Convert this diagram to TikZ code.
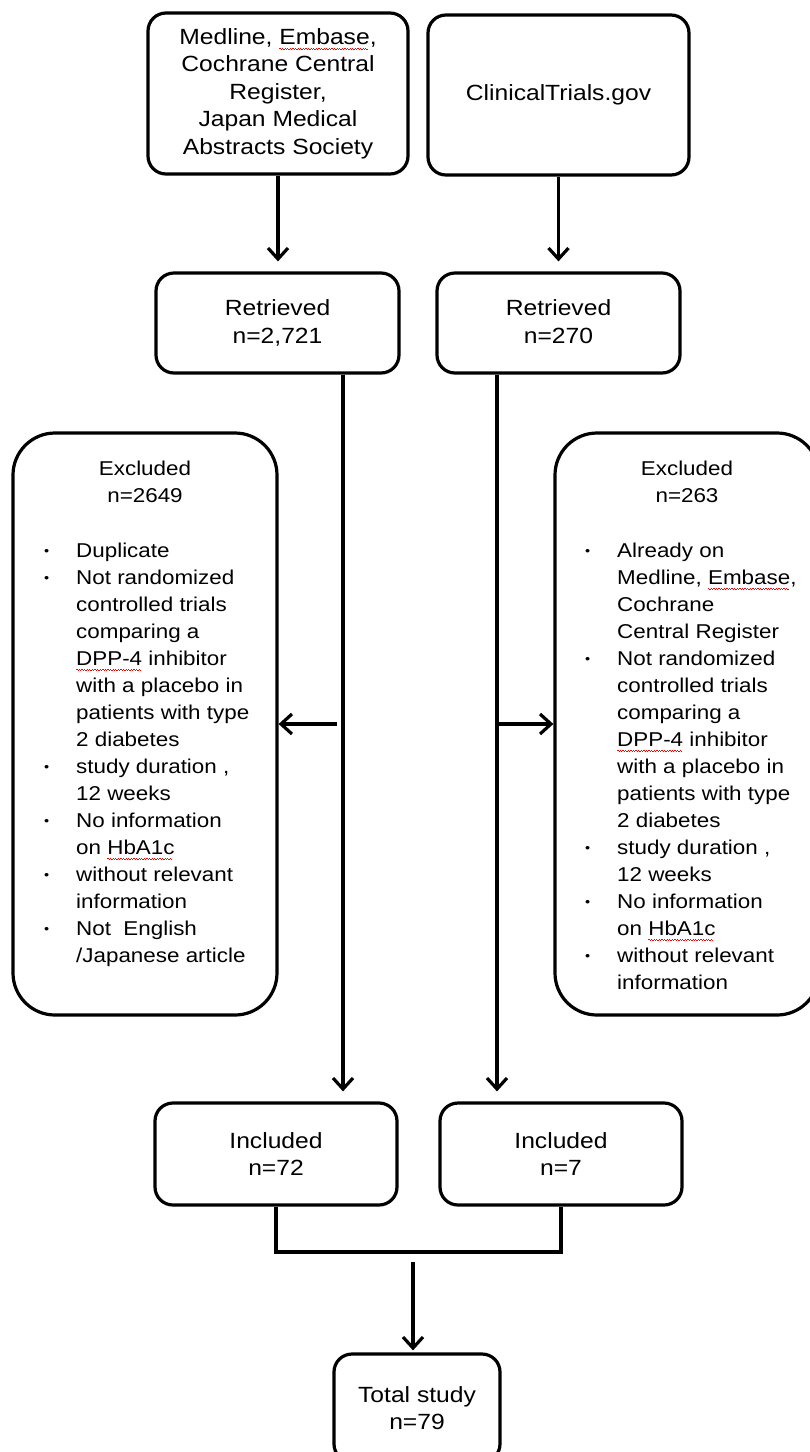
\documentclass[tikz,border=0pt]{standalone}
\usepackage{fontspec}
\setmainfont{Liberation Sans}[FakeStretch=1.12]
\usetikzlibrary{arrows.meta}
\newcommand\wavebit{\textcolor{red}{\rule[0pt]{1.3pt}{0.9pt}\rule[-1.1pt]{1.3pt}{0.9pt}}}
\newcommand\spellw[1]{\setbox0\hbox{#1}\rlap{\raisebox{-4.5pt}{\hbox to \wd0{\leaders\hbox{\wavebit}\hfill}}}#1}
\newcommand\bul{\raisebox{2pt}{\fontsize{13}{13}\selectfont\textbullet}}
\tikzset{
  box/.style={draw, line width=3.2pt, rounded corners=18pt, align=center,
    font=\fontsize{22}{27.5}\selectfont, inner sep=0pt},
  exbox/.style={draw, line width=3.2pt, rounded corners=42pt, inner sep=0pt},
  exfont/.style={font=\fontsize{20}{27}\selectfont, inner sep=0pt},
  conn/.style={line width=3.2pt},
  arr/.style={line width=3.2pt, -{Straight Barb[length=11pt,width=20pt,line width=3.2pt]}},
}
\begin{document}
\begin{tikzpicture}[x=1pt,y=-1pt]
\useasboundingbox (0,0) rectangle (810,1452);
\clip (0,0) rectangle (810,1452);

% sources
\node[box, minimum width=260pt, minimum height=161pt] (src1) at (278,93.5)
  {Medline, \spellw{Embase},\\Cochrane Central\\Register,\\Japan Medical\\Abstracts Society};
\node[box, minimum width=261pt, minimum height=160pt] (src2) at (558.5,95)
  {ClinicalTrials.gov};

% retrieved
\node[box, minimum width=243pt, minimum height=100pt] (retL) at (277.5,323) {Retrieved\\n=2,721};
\node[box, minimum width=243pt, minimum height=100pt] (retR) at (558.5,323) {Retrieved\\n=270\vphantom{,}};

% excluded boxes
\node[exbox, minimum width=264pt, minimum height=582pt] (exL) at (145,724) {};
\node[exbox, minimum width=264pt, minimum height=582pt] (exR) at (687,724) {};

\node[exfont, anchor=base] (exLh) at (145,475)
  {\begin{tabular}[t]{@{}c@{}}Excluded\\n=2649\end{tabular}};
\node[exfont, anchor=base west] (exLt) at (44,557)
  {\begin{tabular}[t]{@{}l@{}l@{}}
  \makebox[32pt][l]{\bul} & Duplicate\\
  \makebox[32pt][l]{\bul} & Not randomized\\
  & controlled trials\\
  & comparing a\\
  & \spellw{DPP-4} inhibitor\\
  & with a placebo in\\
  & patients with type\\
  & 2 diabetes\\
  \makebox[32pt][l]{\bul} & study duration ,\\
  & 12 weeks\\
  \makebox[32pt][l]{\bul} & No information\\
  & on \spellw{HbA1c}\\
  \makebox[32pt][l]{\bul} & without relevant\\
  & information\\
  \makebox[32pt][l]{\bul} & Not\ \ English\\
  & /Japanese article
  \end{tabular}};

\node[exfont, anchor=base] (exRh) at (687,475)
  {\begin{tabular}[t]{@{}c@{}}Excluded\\n=263\end{tabular}};
\node[exfont, anchor=base west] (exRt) at (585,557)
  {\begin{tabular}[t]{@{}l@{}l@{}}
  \makebox[32pt][l]{\bul} & Already on\\
  & Medline, \spellw{Embase},\\
  & Cochrane\\
  & Central Register\\
  \makebox[32pt][l]{\bul} & Not randomized\\
  & controlled trials\\
  & comparing a\\
  & \spellw{DPP-4} inhibitor\\
  & with a placebo in\\
  & patients with type\\
  & 2 diabetes\\
  \makebox[32pt][l]{\bul} & study duration ,\\
  & 12 weeks\\
  \makebox[32pt][l]{\bul} & No information\\
  & on \spellw{HbA1c}\\
  \makebox[32pt][l]{\bul} & without relevant\\
  & information
  \end{tabular}};

% included
\node[box, minimum width=242pt, minimum height=102pt] (incL) at (276,1154) {Included\\n=72};
\node[box, minimum width=242pt, minimum height=102pt] (incR) at (561,1154) {Included\\n=7};

% total
\node[box, minimum width=166pt, minimum height=108pt] (tot) at (417,1408) {Total study\\n=79};

% coordinates for the trunk lines
\coordinate (vL) at (343,724);
\coordinate (vR) at (497,724);
\coordinate (mj) at (413,1252);
\coordinate (ms) at (413,1262);

% connectors
\draw[arr, shorten >=10pt] (src1.south) -- (src1.south |- retL.north);
\draw[arr, shorten >=10pt] (src2.south) -- (src2.south |- retR.north);
\draw[arr, shorten >=10pt] (vL |- retL.south) -- (vL |- incL.north);
\draw[arr, shorten >=10pt] (vR |- retR.south) -- (vR |- incR.north);
\draw[arr, shorten <=6pt] (vL) -- (exL.east);
\draw[arr] (vR) -- (exR.west);
\draw[conn] (incL.south) |- (mj) -| (incR.south);
\draw[arr, shorten >=2pt] (ms) -- (ms |- tot.north);
\end{tikzpicture}
\end{document}
